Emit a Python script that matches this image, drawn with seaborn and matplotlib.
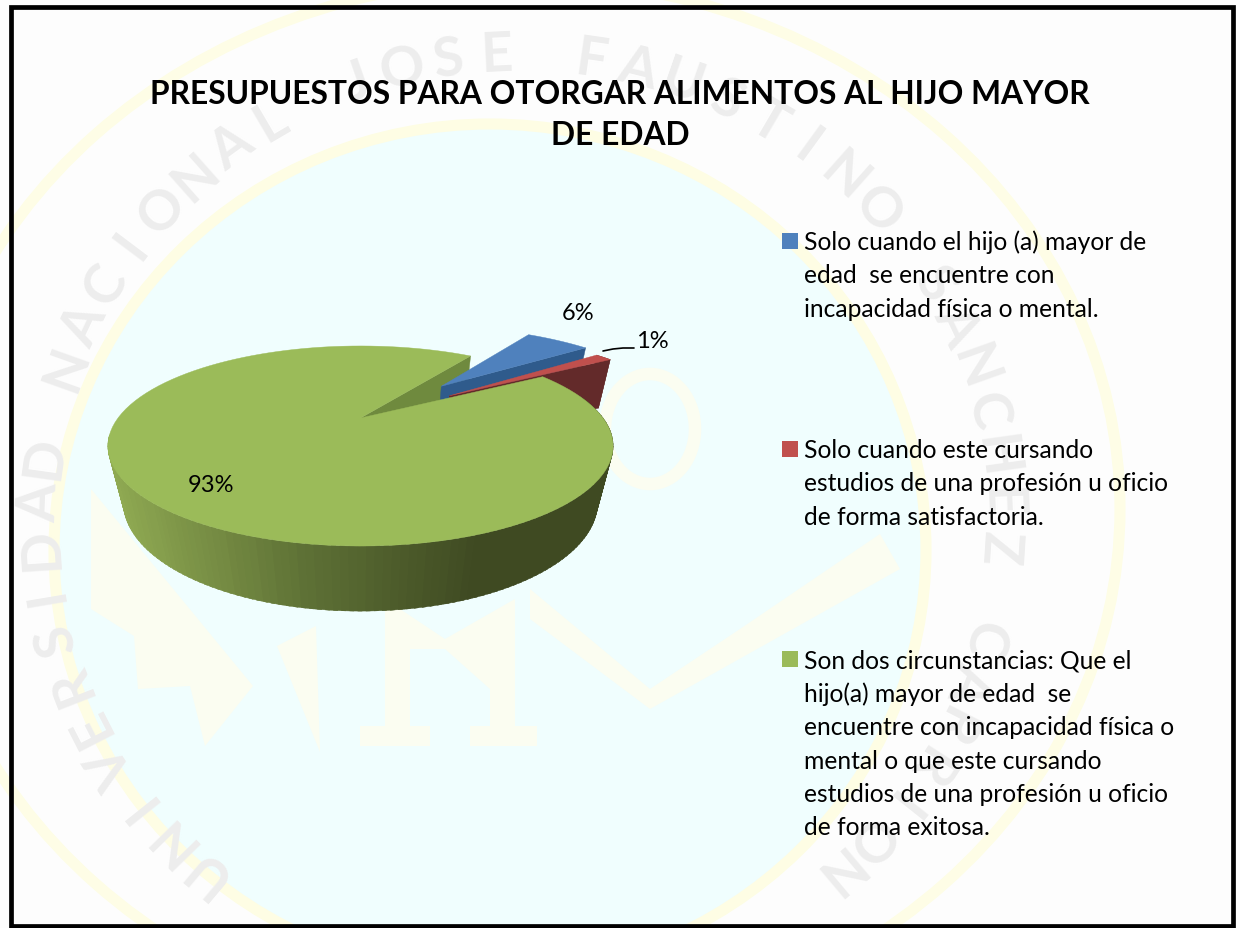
#!/usr/bin/env python3
# -*- coding: utf-8 -*-
"""Exploded 3D-look pie over the university watermark slide."""

import numpy as np
import matplotlib
matplotlib.use("Agg")
import matplotlib.pyplot as plt
from matplotlib.patches import Ellipse, Rectangle
import seaborn as sns

TITLE = "PRESUPUESTOS PARA OTORGAR ALIMENTOS AL HIJO MAYOR\nDE EDAD"
SHARES = [5.6, 1.4, 93.0]
EXPLODE = [0.53, 0.47, 0.0]
COLORS = ["#4f81bd", "#c0504d", "#9bbb59"]
LEGEND_LABELS = [
    "Solo cuando el hijo (a) mayor de\nedad  se encuentre con\nincapacidad física o mental.",
    "Solo cuando este cursando\nestudios de una profesión u oficio\nde forma satisfactoria.",
    "Son dos circunstancias: Que el\nhijo(a) mayor de edad  se\nencuentre con incapacidad física o\n"
    "mental o que este cursando\nestudios de una profesión u oficio\nde forma exitosa.",
]
WATERMARK = "UNIVERSIDAD NACIONAL JOSE FAUSTINO SANCHEZ CARRION"

# perspective of the pie, in figure pixels
X0, Y0 = 360.5, 419
SX, SY = 242.5, 92.2
TILT, SINK, DEPTH = 0.28, 0.06, 58.4


def project(x, y, d=0.0):
    """Pie plane (x, y) at depth d to pixel coordinates."""
    w = 1 + TILT * y + SINK * d
    return X0 + SX * x / w, Y0 - (SY * y - DEPTH * d) / w


def rim(wedge, t1, t2, n=120):
    t = np.radians(np.linspace(t1, t2, n))
    return wedge.center[0] + np.cos(t), wedge.center[1] + np.sin(t)


def wedge_top(ax, wedge, color):
    rx, ry = rim(wedge, wedge.theta1, wedge.theta2)
    px, py = project(np.r_[wedge.center[0], rx], np.r_[wedge.center[1], ry])
    ax.fill(px, py, color=color, lw=0.3)


def radial_wall(ax, wedge, theta, color):
    rx, ry = rim(wedge, theta, theta, 1)
    xs = np.r_[wedge.center[0], rx, rx, wedge.center[0]]
    ys = np.r_[wedge.center[1], ry, ry, wedge.center[1]]
    px, py = project(xs, ys, np.array([0, 0, 1, 1]))
    ax.fill(px, py, color=color, lw=0.3)


def rim_wall(ax, wedge, t1, t2, color):
    rx, ry = rim(wedge, t1, t2, 20)
    tx, ty = project(rx, ry)
    bx, by = project(rx, ry, 1)
    ax.fill(np.r_[tx, bx[::-1]], np.r_[ty, by[::-1]], color=color, lw=0.3)


def draw_background(ax):
    ax.add_patch(Rectangle((0, 0), 1240, 929, color="#fdfdfd", zorder=0))
    ax.add_patch(Ellipse((520, 510), 1200, 1060, fc="none", ec="#fefde6", lw=8, zorder=0.1))
    ax.add_patch(Ellipse((490, 551), 872, 852, fc="#f0fefe", ec="#fefde4", lw=8, zorder=0.1))

    # emblem, very faint
    shapes = [
        [(91, 490), (253, 687), (205, 747), (190, 687), (138, 690), (134, 637), (91, 610)],
        [(277, 647), (320, 753), (316, 627)],
        [(360, 727), (430, 727), (430, 747), (360, 747)],
        [(470, 727), (537, 727), (537, 747), (470, 747)],
        [(385, 730), (410, 730), (410, 650), (445, 650), (490, 690), (490, 730), (515, 730),
         (515, 600), (445, 640), (385, 600)],
        [(530, 590), (650, 690), (740, 630), (880, 535), (900, 570), (650, 710), (530, 620)],
    ]
    for shape in shapes:
        xs, ys = zip(*shape)
        ax.fill(xs, ys, color="#fbfdf1", lw=0, zorder=0.2)
    ax.add_patch(Ellipse((650, 430), 90, 110, fc="none", ec="#fbfdf1", lw=9, zorder=0.2))

    # seal text running round the ring
    angles = np.linspace(229, -49, len(WATERMARK))
    for ch, a in zip(WATERMARK, angles):
        t = np.radians(a)
        x, y = 520 + 480 * np.cos(t), 520 - 465 * np.sin(t)
        rot = np.degrees(np.arctan2(465 * np.cos(t), -480 * np.sin(t))) - 180
        ax.text(x, y, ch, fontsize=40, fontweight="bold", color="#ededed", ha="center",
                va="center", rotation=rot, rotation_mode="anchor", zorder=0.3, clip_on=True)


def draw_pie(ax):
    wedges, _ = ax.pie(SHARES, explode=EXPLODE, startangle=56, counterclock=False,
                       colors=COLORS)
    for w in wedges:
        w.set_visible(False)
    blue, red, green = wedges

    # inner face of the notch, seen through the gap
    radial_wall(ax, green, green.theta1 + 360, "#6f8a3e")
    # pulled-out slices, back to front
    radial_wall(ax, blue, blue.theta1, "#2f5b8c")
    wedge_top(ax, blue, COLORS[0])
    radial_wall(ax, red, red.theta1, "#632a2a")
    rim_wall(ax, red, red.theta1, red.theta2, "#632a2a")
    wedge_top(ax, red, COLORS[1])

    # outer wall of the big slice, shaded strip by strip
    shades = sns.blend_palette(["#8fa952", "#5f7236", "#3f4a22"], 64)
    edges = np.arange(190, 376, 1.5)
    for t1, t2 in zip(edges[:-1], edges[1:]):
        x_mid = project(np.cos(np.radians(t1)), np.sin(np.radians(t1)))[0]
        level = np.clip((x_mid - 110) / (473 - 110), 0, 1)
        rim_wall(ax, green, t1, t2 + 0.8, shades[int(level * 63)])
    wedge_top(ax, green, COLORS[2])

    ax.plot([603, 613, 623, 634], [352, 350, 349, 349], color="black", lw=1.2)
    for share, (x, y) in zip(SHARES, [(578, 313), (652, 341), (211, 486)]):
        ax.text(x, y, "{:.0f}%".format(share), fontsize=17, color="black", ha="center", va="center")


def draw_legend(ax):
    for label, color, y in zip(LEGEND_LABELS, COLORS, [241.5, 450, 660]):
        ax.scatter([789.5], [y], marker="s", s=117, color=color, linewidths=0)
        ax.text(804, y - 11, label, fontsize=17.7, color="black", ha="left", va="top",
                linespacing=1.54)


def main():
    sns.set_theme(style="white")
    plt.rcParams["font.family"] = ["Lato", "DejaVu Sans"]

    fig = plt.figure(figsize=(12.4, 9.29), dpi=100)
    ax = fig.add_axes([0, 0, 1, 1])
    draw_pie(ax)
    ax.set_aspect("auto")
    ax.set_xlim(0, 1240)
    ax.set_ylim(929, 0)
    ax.axis("off")
    draw_background(ax)
    draw_legend(ax)

    ax.text(620, 115, TITLE, fontsize=22.9, fontweight="bold", color="black",
            ha="center", va="center", linespacing=1.52)
    ax.add_patch(Rectangle((10.5, 8), 1222.5, 919, fc="none", ec="black", lw=3.4, zorder=5))

    fig.savefig("out.png", dpi=100)


if __name__ == "__main__":
    main()
